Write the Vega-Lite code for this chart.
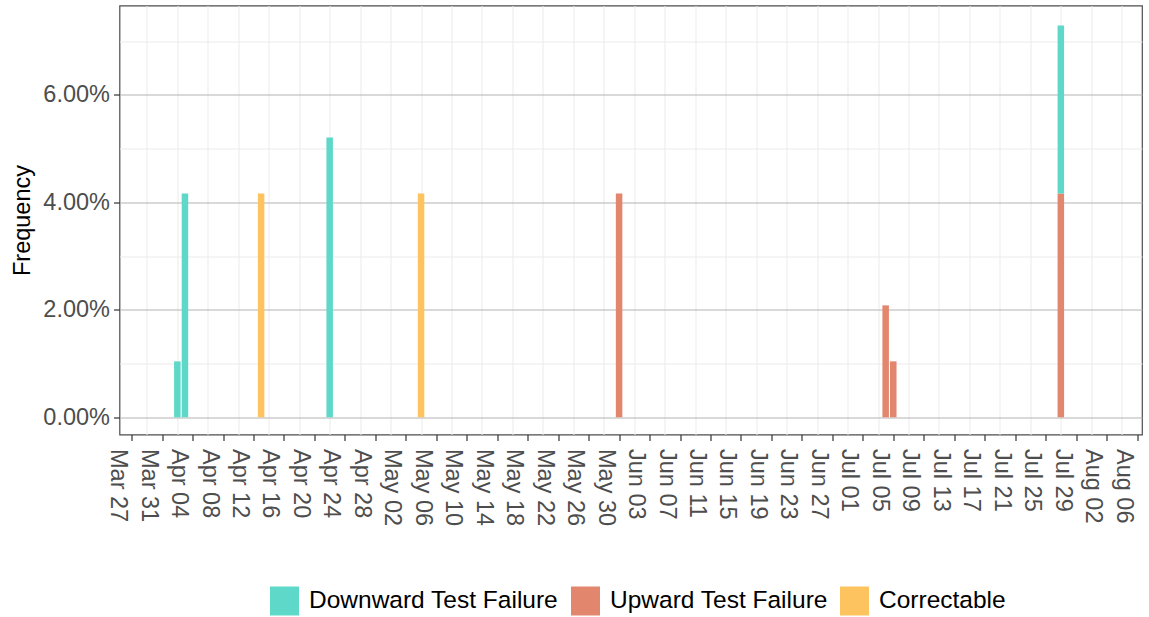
{
  "$schema": "https://vega.github.io/schema/vega-lite/v6.json",
  "width": 1022.5,
  "height": 429,
  "autosize": {"type": "none"},
  "padding": {"left": 119.5, "top": 5.5, "right": 7, "bottom": 182.5},
  "background": "white",
  "config": {
    "font": "Liberation Sans",
    "view": {"stroke": "#4d4d4d", "strokeWidth": 1.2},
    "axis": {"domain": false}
  },
  "data": {
    "values": [
      {"date": "2021-04-02", "type": "Downward Test Failure", "freq": 0.010417},
      {"date": "2021-04-03", "type": "Downward Test Failure", "freq": 0.041667},
      {"date": "2021-04-13", "type": "Correctable", "freq": 0.041667},
      {"date": "2021-04-22", "type": "Downward Test Failure", "freq": 0.052083},
      {"date": "2021-05-04", "type": "Correctable", "freq": 0.041667},
      {"date": "2021-05-30", "type": "Upward Test Failure", "freq": 0.041667},
      {"date": "2021-07-04", "type": "Upward Test Failure", "freq": 0.020833},
      {"date": "2021-07-05", "type": "Upward Test Failure", "freq": 0.010417},
      {"date": "2021-07-27", "type": "Upward Test Failure", "freq": 0.041667},
      {"date": "2021-07-27", "type": "Downward Test Failure", "freq": 0.03125}
    ]
  },
  "resolve": {"axis": {"x": "independent", "y": "independent"}},
  "layer": [
    {
      "mark": {"type": "bar", "opacity": 0, "width": 6},
      "encoding": {
        "x": {
          "field": "date", "type": "temporal",
          "scale": {
            "type": "utc",
            "domain": [
              {"year": 2021, "month": "mar", "date": 26, "hours": 1, "minutes": 30, "utc": true},
              {"year": 2021, "month": "aug", "date": 6, "utc": true}
            ]
          },
          "axis": {
            "orient": "top", "title": null, "labels": false, "ticks": false, "domain": false,
            "grid": true, "gridColor": "#ebebeb", "gridWidth": 1,
            "values": [
              {"year": 2021, "month": "mar", "date": 29, "utc": true},
              {"year": 2021, "month": "apr", "date": 2, "utc": true},
              {"year": 2021, "month": "apr", "date": 6, "utc": true},
              {"year": 2021, "month": "apr", "date": 10, "utc": true},
              {"year": 2021, "month": "apr", "date": 14, "utc": true},
              {"year": 2021, "month": "apr", "date": 18, "utc": true},
              {"year": 2021, "month": "apr", "date": 22, "utc": true},
              {"year": 2021, "month": "apr", "date": 26, "utc": true},
              {"year": 2021, "month": "apr", "date": 30, "utc": true},
              {"year": 2021, "month": "may", "date": 4, "utc": true},
              {"year": 2021, "month": "may", "date": 8, "utc": true},
              {"year": 2021, "month": "may", "date": 12, "utc": true},
              {"year": 2021, "month": "may", "date": 16, "utc": true},
              {"year": 2021, "month": "may", "date": 20, "utc": true},
              {"year": 2021, "month": "may", "date": 24, "utc": true},
              {"year": 2021, "month": "may", "date": 28, "utc": true},
              {"year": 2021, "month": "jun", "date": 1, "utc": true},
              {"year": 2021, "month": "jun", "date": 5, "utc": true},
              {"year": 2021, "month": "jun", "date": 9, "utc": true},
              {"year": 2021, "month": "jun", "date": 13, "utc": true},
              {"year": 2021, "month": "jun", "date": 17, "utc": true},
              {"year": 2021, "month": "jun", "date": 21, "utc": true},
              {"year": 2021, "month": "jun", "date": 25, "utc": true},
              {"year": 2021, "month": "jun", "date": 29, "utc": true},
              {"year": 2021, "month": "jul", "date": 3, "utc": true},
              {"year": 2021, "month": "jul", "date": 7, "utc": true},
              {"year": 2021, "month": "jul", "date": 11, "utc": true},
              {"year": 2021, "month": "jul", "date": 15, "utc": true},
              {"year": 2021, "month": "jul", "date": 19, "utc": true},
              {"year": 2021, "month": "jul", "date": 23, "utc": true},
              {"year": 2021, "month": "jul", "date": 27, "utc": true},
              {"year": 2021, "month": "jul", "date": 31, "utc": true},
              {"year": 2021, "month": "aug", "date": 4, "utc": true}
            ]
          }
        },
        "y": {
          "field": "freq", "type": "quantitative", "stack": null,
          "scale": {"domain": [-0.0032, 0.07665], "nice": false, "zero": false},
          "axis": {
            "orient": "right", "title": null, "labels": false, "ticks": false, "domain": false,
            "grid": true, "gridColor": "#ebebeb", "gridWidth": 1,
            "values": [0.01, 0.03, 0.05, 0.07]
          }
        }
      }
    },
    {
      "mark": {"type": "bar", "width": 6.5},
      "encoding": {
        "x": {
          "field": "date", "type": "temporal",
          "axis": {
            "orient": "bottom", "title": null, "grid": false, "domain": false,
            "labelExpr": "utcFormat(datum.value, '%b %d')",
            "labelAngle": 90, "labelAlign": "left", "labelBaseline": "top",
            "labelFontSize": 23.5, "labelColor": "#4d4d4d", "labelPadding": 8, "labelOffset": -2,
            "labelOverlap": false, "labelFlush": false, "labelBound": false,
            "tickColor": "#333333", "tickSize": 6, "tickWidth": 1.2,
            "values": [
              {"year": 2021, "month": "mar", "date": 27, "utc": true},
              {"year": 2021, "month": "mar", "date": 31, "utc": true},
              {"year": 2021, "month": "apr", "date": 4, "utc": true},
              {"year": 2021, "month": "apr", "date": 8, "utc": true},
              {"year": 2021, "month": "apr", "date": 12, "utc": true},
              {"year": 2021, "month": "apr", "date": 16, "utc": true},
              {"year": 2021, "month": "apr", "date": 20, "utc": true},
              {"year": 2021, "month": "apr", "date": 24, "utc": true},
              {"year": 2021, "month": "apr", "date": 28, "utc": true},
              {"year": 2021, "month": "may", "date": 2, "utc": true},
              {"year": 2021, "month": "may", "date": 6, "utc": true},
              {"year": 2021, "month": "may", "date": 10, "utc": true},
              {"year": 2021, "month": "may", "date": 14, "utc": true},
              {"year": 2021, "month": "may", "date": 18, "utc": true},
              {"year": 2021, "month": "may", "date": 22, "utc": true},
              {"year": 2021, "month": "may", "date": 26, "utc": true},
              {"year": 2021, "month": "may", "date": 30, "utc": true},
              {"year": 2021, "month": "jun", "date": 3, "utc": true},
              {"year": 2021, "month": "jun", "date": 7, "utc": true},
              {"year": 2021, "month": "jun", "date": 11, "utc": true},
              {"year": 2021, "month": "jun", "date": 15, "utc": true},
              {"year": 2021, "month": "jun", "date": 19, "utc": true},
              {"year": 2021, "month": "jun", "date": 23, "utc": true},
              {"year": 2021, "month": "jun", "date": 27, "utc": true},
              {"year": 2021, "month": "jul", "date": 1, "utc": true},
              {"year": 2021, "month": "jul", "date": 5, "utc": true},
              {"year": 2021, "month": "jul", "date": 9, "utc": true},
              {"year": 2021, "month": "jul", "date": 13, "utc": true},
              {"year": 2021, "month": "jul", "date": 17, "utc": true},
              {"year": 2021, "month": "jul", "date": 21, "utc": true},
              {"year": 2021, "month": "jul", "date": 25, "utc": true},
              {"year": 2021, "month": "jul", "date": 29, "utc": true},
              {"year": 2021, "month": "aug", "date": 2, "utc": true},
              {"year": 2021, "month": "aug", "date": 6, "utc": true}
            ]
          }
        },
        "y": {
          "field": "freq", "type": "quantitative", "stack": "zero",
          "axis": {
            "orient": "left", "title": "Frequency", "format": ".2%",
            "values": [0, 0.02, 0.04, 0.06],
            "grid": true, "gridColor": "#b3b3b3", "gridWidth": 1,
            "domain": false,
            "labelFontSize": 23.5, "labelColor": "#4d4d4d", "labelPadding": 4,
            "tickColor": "#333333", "tickSize": 6, "tickWidth": 1.2,
            "titleFontSize": 23.5, "titleFontWeight": "normal", "titleColor": "#000000",
            "titlePadding": 8
          }
        },
        "color": {
          "field": "type", "type": "nominal",
          "scale": {
            "domain": ["Downward Test Failure", "Upward Test Failure", "Correctable"],
            "range": ["#5dd8c9", "#e2866e", "#fcc35f"]
          },
          "legend": {
            "title": null, "orient": "none", "direction": "horizontal",
            "legendX": 150.5, "legendY": 581,
            "symbolType": "square", "symbolSize": 841, "symbolStrokeWidth": 0, "symbolOpacity": 1,
            "labelFontSize": 24.5, "labelColor": "#000000", "labelOffset": 10,
            "columnPadding": 12, "labelLimit": 400
          }
        },
        "order": {"field": "type", "sort": "descending"}
      }
    }
  ]
}
